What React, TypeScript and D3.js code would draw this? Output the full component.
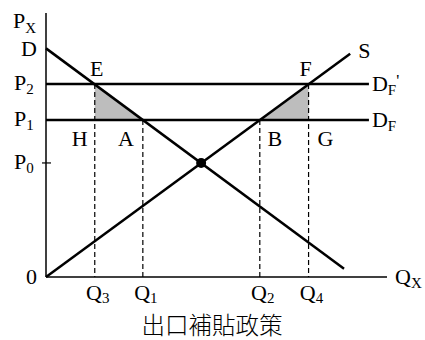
import React from "react";
import * as d3 from "d3";

// economic units: quantity on x (0..10), price on y (0..10)
const demandLine = [
  { q: 0, p: 8.66 },
  { q: 8.74, p: 0.31 },
];
const supplyLine = [
  { q: 0, p: 0 },
  { q: 8.92, p: 8.46 },
];
const priceTicks = [
  { name: "P", sub: "0", p: 4.32, tick: true },
  { name: "P", sub: "1", p: 5.95, tick: false },
  { name: "P", sub: "2", p: 7.31, tick: false },
];
const foreignDemand = [
  { sub: "F", prime: true, p: 7.31, qEnd: 9.47 },
  { sub: "F", prime: false, p: 5.95, qEnd: 9.47 },
];
const quantityTicks = [
  { sub: "3", q: 1.43, p: 7.31 },
  { sub: "1", q: 2.84, p: 5.95 },
  { sub: "2", q: 6.27, p: 5.95 },
  { sub: "4", q: 7.7, p: 7.31 },
];
const equilibrium = { q: 4.55, p: 4.32 };
const shadedAreas = [
  [
    { q: 1.43, p: 7.31 },
    { q: 2.84, p: 5.95 },
    { q: 1.43, p: 5.95 },
  ],
  [
    { q: 6.27, p: 5.95 },
    { q: 7.7, p: 7.31 },
    { q: 7.7, p: 5.95 },
  ],
];
const pointLabels = [
  { label: "E", q: 1.43, p: 7.31 },
  { label: "F", q: 7.7, p: 7.31 },
  { label: "H", q: 1.43, p: 5.95 },
  { label: "A", q: 2.84, p: 5.95 },
  { label: "B", q: 6.27, p: 5.95 },
  { label: "G", q: 7.7, p: 5.95 },
];
const title = "出口補貼政策";

const width = 425;
const height = 340;
const serif = "'Liberation Serif', 'Times New Roman', serif";

// where each point label sits relative to its point (px)
const labelOffset = {
  E: [2, -8],
  F: [-3, -8],
  H: [-15, 26],
  A: [-17, 26],
  B: [15, 26],
  G: [17, 26],
};

export default function App() {
  const x = d3.scaleLinear().domain([0, 10]).range([46, 387]);
  const y = d3.scaleLinear().domain([0, 10]).range([277, 13]);

  const line = d3
    .line<{ q: number; p: number }>()
    .x((d) => x(d.q))
    .y((d) => y(d.p));

  const area = d3
    .line<{ q: number; p: number }>()
    .x((d) => x(d.q))
    .y((d) => y(d.p))
    .curve(d3.curveLinearClosed);

  return (
    <svg
      width={width}
      height={height}
      style={{ position: "absolute", left: 0, top: 0 }}
      fontFamily={serif}
    >
      <rect width={width} height={height} fill="#fff" />

      {/* shaded triangles */}
      {shadedAreas.map((pts, i) => (
        <path key={i} d={area(pts) || ""} fill="#bdbdbd" stroke="none" />
      ))}

      {/* dashed drop lines */}
      {quantityTicks.map((d, i) => (
        <line
          key={i}
          x1={x(d.q)}
          x2={x(d.q)}
          y1={y(d.p)}
          y2={y(0)}
          stroke="#000"
          strokeWidth={1.2}
          strokeDasharray="5,3"
        />
      ))}

      {/* axes */}
      <line x1={x(0)} x2={x(0)} y1={y(0)} y2={y(10)} stroke="#000" strokeWidth={1.5} />
      <line x1={x(0)} x2={x(10)} y1={y(0)} y2={y(0)} stroke="#000" strokeWidth={1.5} />

      {/* world price lines */}
      {foreignDemand.map((d, i) => (
        <line
          key={i}
          x1={x(0)}
          x2={x(d.qEnd)}
          y1={y(d.p)}
          y2={y(d.p)}
          stroke="#000"
          strokeWidth={2.5}
        />
      ))}

      {/* demand and supply */}
      <path d={line(demandLine) || ""} fill="none" stroke="#000" strokeWidth={2.5} />
      <path d={line(supplyLine) || ""} fill="none" stroke="#000" strokeWidth={2.5} />

      <circle cx={x(equilibrium.q)} cy={y(equilibrium.p)} r={5} fill="#000" />

      {/* price axis labels */}
      <text x={13} y={28} fontSize={22}>
        P<tspan fontSize={15} dy={5}>X</tspan>
      </text>
      <text x={37} y={y(demandLine[0].p) + 8} fontSize={22} textAnchor="end">
        D
      </text>
      {priceTicks.map((d, i) => (
        <g key={i}>
          {d.tick && (
            <line
              x1={x(0) - 4}
              x2={x(0) + 5}
              y1={y(d.p)}
              y2={y(d.p)}
              stroke="#000"
              strokeWidth={1.2}
            />
          )}
          <text x={14} y={y(d.p) + 6} fontSize={22}>
            {d.name}
            <tspan fontSize={15} dy={4}>
              {d.sub}
            </tspan>
          </text>
        </g>
      ))}
      <text x={26} y={y(0) + 7} fontSize={22}>
        0
      </text>

      {/* quantity axis labels */}
      <text x={395} y={y(0) + 7} fontSize={22}>
        Q<tspan fontSize={15} dy={4}>X</tspan>
      </text>
      {quantityTicks.map((d, i) => (
        <text key={i} x={x(d.q) + 3} y={300} fontSize={22} textAnchor="middle">
          Q
          <tspan fontSize={15} dy={3}>
            {d.sub}
          </tspan>
        </text>
      ))}

      {/* line labels */}
      <text
        x={x(supplyLine[1].q) + 8}
        y={y(supplyLine[1].p) + 4}
        fontSize={22}
      >
        S
      </text>
      {foreignDemand.map((d, i) => (
        <text key={i} x={x(d.qEnd) + 3} y={y(d.p) + 7} fontSize={22}>
          D
          <tspan fontSize={15} dy={4}>
            {d.sub}
          </tspan>
          {d.prime && (
            <tspan fontSize={17} dy={-9}>
              '
            </tspan>
          )}
        </text>
      ))}

      {pointLabels.map((d, i) => {
        const [dx, dy] = labelOffset[d.label as keyof typeof labelOffset];
        return (
          <text
            key={i}
            x={x(d.q) + dx}
            y={y(d.p) + dy}
            fontSize={22}
            textAnchor="middle"
          >
            {d.label}
          </text>
        );
      })}

      <text
        x={212}
        y={334}
        fontSize={23.5}
        textAnchor="middle"
        fontFamily="'Noto Sans CJK TC', sans-serif"
        fontWeight={300}
      >
        {title}
      </text>
    </svg>
  );
}
